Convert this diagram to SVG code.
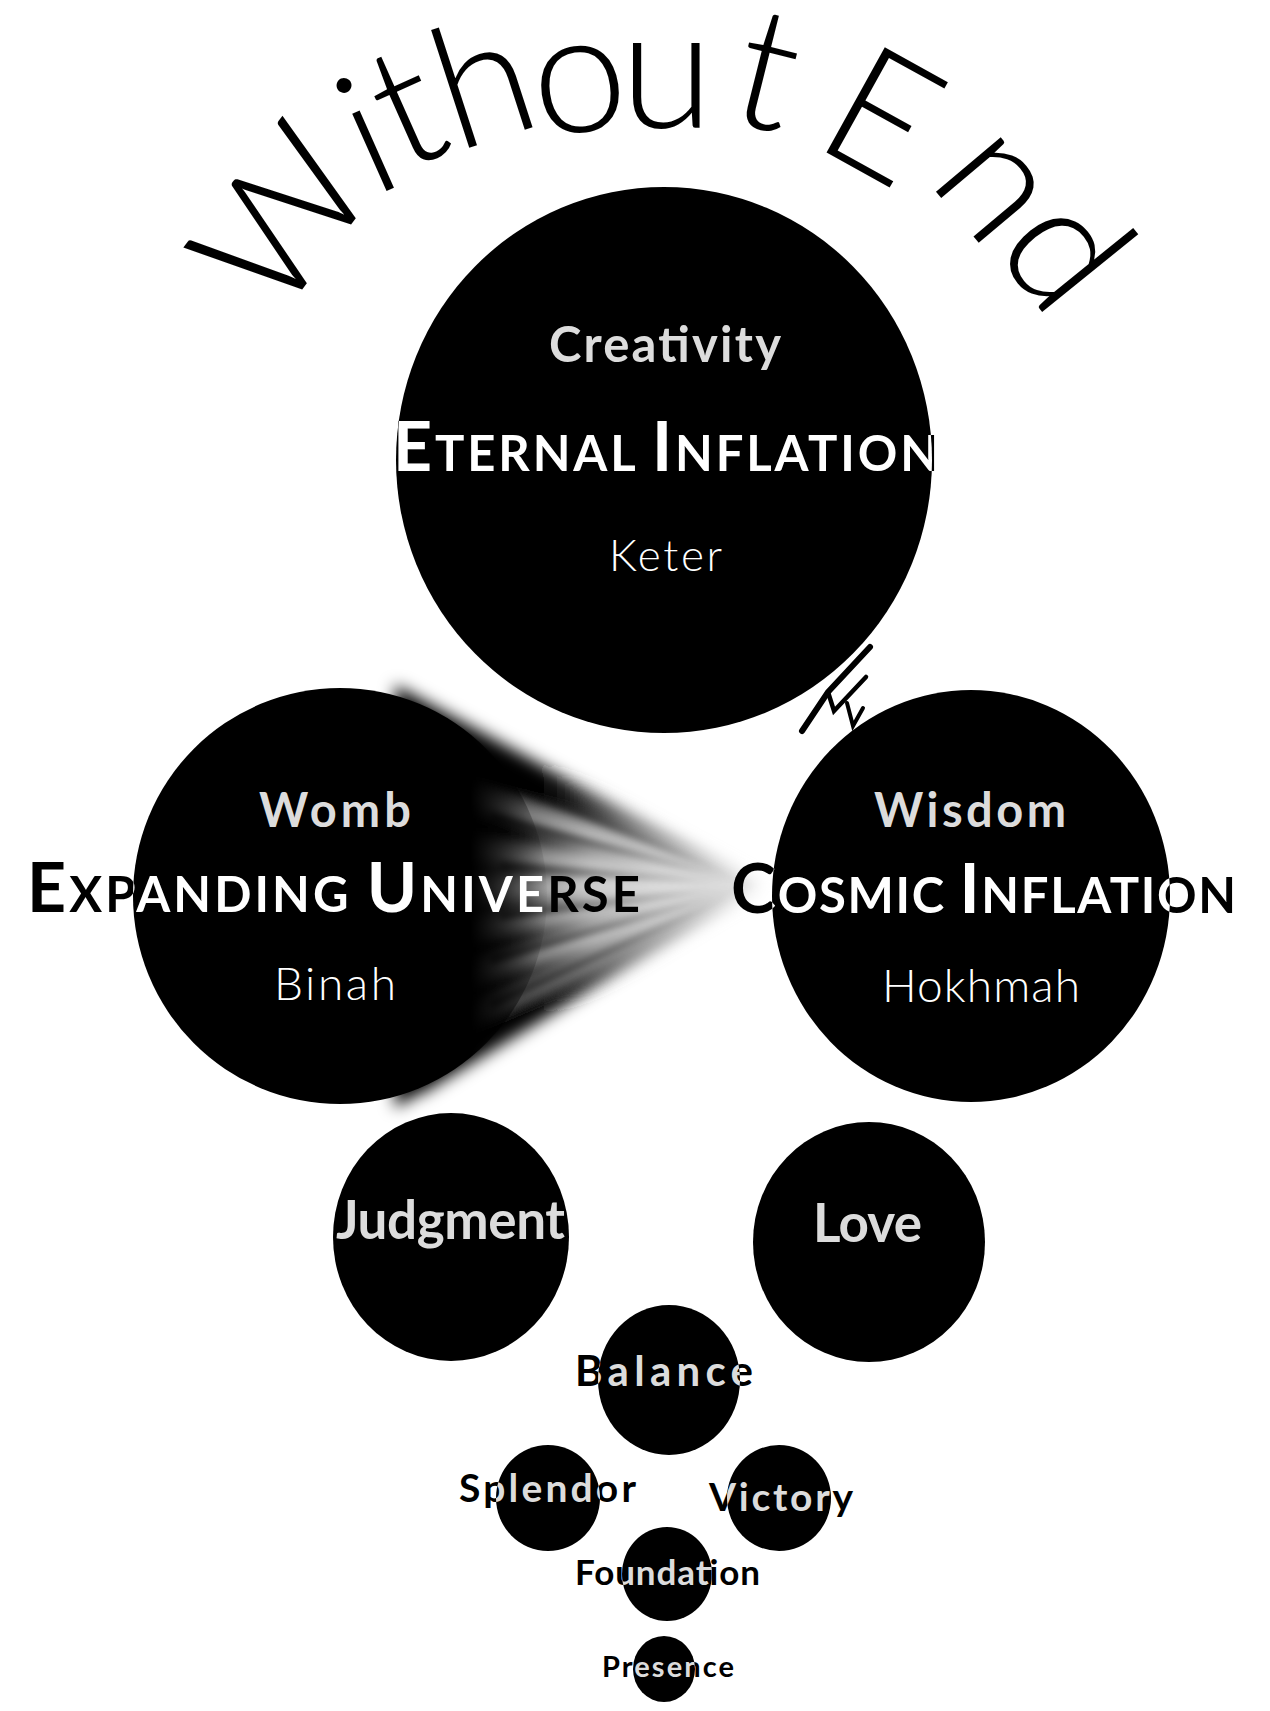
<svg xmlns="http://www.w3.org/2000/svg" width="1270" height="1711" viewBox="0 0 1270 1711">
<style>
.bold{font-family:Lato,"Open Sans","Liberation Sans",sans-serif;font-weight:700}
.hand{font-family:Lato,"DejaVu Sans",sans-serif;font-weight:300;fill:#fff}
.title{font-family:Lato,"DejaVu Sans",sans-serif;font-weight:300;font-size:170px;fill:#000}
.disc{fill:#000}
.lbl{fill:#dcdcdc}
.inv{fill:#000}
.bolt{fill:none;stroke:#000;stroke-linejoin:miter;stroke-linecap:round}
</style>
<defs>
  <clipPath id="cKeter"><ellipse cx="664" cy="460" rx="268" ry="273"/></clipPath>
  <clipPath id="cBinah"><ellipse cx="340" cy="896" rx="207" ry="208"/></clipPath>
  <clipPath id="cHokhmah"><ellipse cx="971" cy="896" rx="199" ry="206"/></clipPath>
  <clipPath id="cJudgment"><ellipse cx="451" cy="1237" rx="118" ry="124"/></clipPath>
  <clipPath id="cBalance"><ellipse cx="669" cy="1380" rx="71" ry="75"/></clipPath>
  <clipPath id="cSplendor"><ellipse cx="548" cy="1498" rx="52" ry="53"/></clipPath>
  <clipPath id="cVictory"><ellipse cx="779" cy="1498" rx="52" ry="53"/></clipPath>
  <clipPath id="cFoundation"><ellipse cx="667" cy="1574" rx="45" ry="47"/></clipPath>
  <clipPath id="cPresence"><ellipse cx="664" cy="1669" rx="31" ry="33"/></clipPath>
  <linearGradient id="gFade" gradientUnits="userSpaceOnUse" x1="470" y1="0" x2="550" y2="0">
    <stop offset="0" stop-color="#fff"/>
    <stop offset="1" stop-color="#000"/>
  </linearGradient>
  <mask id="mBinah" maskUnits="userSpaceOnUse" x="0" y="600" width="800" height="600">
    <rect x="0" y="600" width="800" height="600" fill="url(#gFade)"/>
  </mask>
  <linearGradient id="gRayBase" gradientUnits="userSpaceOnUse" x1="400" y1="0" x2="762" y2="0">
    <stop offset="0" stop-color="#000"/>
    <stop offset="0.30" stop-color="#000"/>
    <stop offset="0.40" stop-color="#333"/>
    <stop offset="0.53" stop-color="#8a8a8a"/>
    <stop offset="0.69" stop-color="#bdbdbd"/>
    <stop offset="0.88" stop-color="#d8d8d8"/>
    <stop offset="1" stop-color="#e8e8e8"/>
  </linearGradient>
  <linearGradient id="gLight" gradientUnits="userSpaceOnUse" x1="430" y1="0" x2="762" y2="0">
    <stop offset="0" stop-color="#fff" stop-opacity="0"/>
    <stop offset="0.15" stop-color="#fff" stop-opacity="0.4"/>
    <stop offset="0.5" stop-color="#fff" stop-opacity="0.85"/>
    <stop offset="1" stop-color="#fff" stop-opacity="0.6"/>
  </linearGradient>
  <linearGradient id="gDarkS" gradientUnits="userSpaceOnUse" x1="420" y1="0" x2="762" y2="0">
    <stop offset="0" stop-color="#000" stop-opacity="1"/>
    <stop offset="0.35" stop-color="#000" stop-opacity="0.9"/>
    <stop offset="0.6" stop-color="#000" stop-opacity="0.35"/>
    <stop offset="1" stop-color="#000" stop-opacity="0"/>
  </linearGradient>
  <linearGradient id="gGrey" gradientUnits="userSpaceOnUse" x1="480" y1="0" x2="762" y2="0">
    <stop offset="0" stop-color="#000" stop-opacity="0.6"/>
    <stop offset="0.5" stop-color="#000" stop-opacity="0.4"/>
    <stop offset="1" stop-color="#000" stop-opacity="0.12"/>
  </linearGradient>
  <filter id="fBlur" x="-20%" y="-20%" width="140%" height="140%">
    <feGaussianBlur stdDeviation="8"/>
  </filter>
  <filter id="fBlurS" x="-20%" y="-20%" width="140%" height="140%">
    <feGaussianBlur stdDeviation="3.5"/>
  </filter>
</defs>
<rect x="0" y="0" width="1270" height="1711" fill="#fff"/>

<g id="title">
  <text class="title" x="277 373 403 456 539 620 725 790 811 927 992" y="323 197 172 152 138 128 120 130 144 181 250" rotate="-53 -24 -24 -18 -8 0 14 0 29 50 51">Without End</text>
</g>

<g id="connectors">
  <g id="rays">
    <g filter="url(#fBlur)">
      <polygon points="762,885 395,685 395,1108" fill="url(#gRayBase)"/>
      <polygon points="762,885 420,700 420,765" fill="url(#gDarkS)"/>
      <polygon points="762,885 420,1020 420,1095" fill="url(#gDarkS)"/>
      <polygon points="762,885 440,780 440,796" fill="url(#gLight)"/>
      <polygon points="762,885 440,838 440,856" fill="url(#gLight)"/>
      <polygon points="762,885 440,876 440,902" fill="url(#gLight)"/>
      <polygon points="762,885 440,925 440,941" fill="url(#gLight)"/>
      <polygon points="762,885 440,975 440,990" fill="url(#gLight)"/>
      <polygon points="762,885 440,1024 440,1034" fill="url(#gLight)"/>
    </g>
    <g filter="url(#fBlurS)">
      <polygon points="755,885 490,770 490,781" fill="url(#gGrey)"/>
      <polygon points="755,885 490,812 490,822" fill="url(#gGrey)"/>
      <polygon points="755,885 500,862 500,870" fill="url(#gGrey)"/>
      <polygon points="755,885 500,912 500,920" fill="url(#gGrey)"/>
      <polygon points="755,885 490,955 490,965" fill="url(#gGrey)"/>
      <polygon points="755,885 490,1000 490,1010" fill="url(#gGrey)"/>
    </g>
  </g>
  <g id="bolt">
    <path class="bolt" stroke-width="6" d="M870,647 L828,692 L802,731"/>
    <path class="bolt" stroke-width="4.5" d="M828,692 L834,711 L866,677"/>
    <path class="bolt" stroke-width="4" d="M847,703 L853,726 L863,708"/>
  </g>
</g>

<g id="keter">
  <ellipse class="disc" cx="664" cy="460" rx="268" ry="273"/>
  <text class="bold lbl" x="549" y="362" font-size="49" textLength="232" lengthAdjust="spacing">Creativity</text>
  <g class="inv"><text id="tKeter" class="bold" x="393" y="471" textLength="545" lengthAdjust="spacing"><tspan font-size="68">E</tspan><tspan font-size="49">TERNAL </tspan><tspan font-size="68">I</tspan><tspan font-size="49">NFLATION</tspan></text></g>
  <use href="#tKeter" fill="#fff" clip-path="url(#cKeter)"/>
  <text class="hand" x="609" y="571" font-size="44" textLength="113" lengthAdjust="spacing">Keter</text>
</g>

<g id="binah">
  <ellipse class="disc" cx="340" cy="896" rx="207" ry="208" mask="url(#mBinah)"/>
  <text class="bold lbl" x="259" y="827" font-size="47" textLength="152" lengthAdjust="spacing">Womb</text>
  <g class="inv"><text id="tBinah" class="bold" x="27" y="912" textLength="613" lengthAdjust="spacing"><tspan font-size="68">E</tspan><tspan font-size="49">XPANDING </tspan><tspan font-size="68">U</tspan><tspan font-size="49">NIVERSE</tspan></text></g>
  <use href="#tBinah" fill="#fff" clip-path="url(#cBinah)"/>
  <text class="hand" x="274" y="1000" font-size="46" textLength="122" lengthAdjust="spacing">Binah</text>
</g>

<g id="hokhmah">
  <ellipse class="disc" cx="971" cy="896" rx="199" ry="206"/>
  <text class="bold lbl" x="874" y="827" font-size="47" textLength="192" lengthAdjust="spacing">Wisdom</text>
  <g class="inv"><text id="tHokhmah" class="bold" x="731" y="913" textLength="505" lengthAdjust="spacing"><tspan font-size="68">C</tspan><tspan font-size="49">OSMIC </tspan><tspan font-size="68">I</tspan><tspan font-size="49">NFLATION</tspan></text></g>
  <use href="#tHokhmah" fill="#fff" clip-path="url(#cHokhmah)"/>
  <text class="hand" x="882" y="1002" font-size="46" textLength="198" lengthAdjust="spacing">Hokhmah</text>
</g>

<g id="judgment">
  <ellipse class="disc" cx="451" cy="1237" rx="118" ry="124"/>
  <g class="inv"><text id="tJudgment" class="bold" x="336" y="1239" font-size="53" textLength="229" lengthAdjust="spacing">Judgment</text></g>
  <use href="#tJudgment" fill="#dcdcdc" clip-path="url(#cJudgment)"/>
</g>

<g id="love">
  <ellipse class="disc" cx="869" cy="1242" rx="116" ry="120"/>
  <text class="bold lbl" x="813" y="1242" font-size="53" textLength="109" lengthAdjust="spacing">Love</text>
</g>

<g id="balance">
  <ellipse class="disc" cx="669" cy="1380" rx="71" ry="75"/>
  <g class="inv"><text id="tBalance" class="bold" x="575" y="1386" font-size="42" textLength="178" lengthAdjust="spacing">Balance</text></g>
  <use href="#tBalance" fill="#dcdcdc" clip-path="url(#cBalance)"/>
</g>

<g id="splendor">
  <ellipse class="disc" cx="548" cy="1498" rx="52" ry="53"/>
  <g class="inv"><text id="tSplendor" class="bold" x="459" y="1502" font-size="39" textLength="177" lengthAdjust="spacing">Splendor</text></g>
  <use href="#tSplendor" fill="#dcdcdc" clip-path="url(#cSplendor)"/>
</g>

<g id="victory">
  <ellipse class="disc" cx="779" cy="1498" rx="52" ry="53"/>
  <g class="inv"><text id="tVictory" class="bold" x="709" y="1511" font-size="39" textLength="144" lengthAdjust="spacing">Victory</text></g>
  <use href="#tVictory" fill="#dcdcdc" clip-path="url(#cVictory)"/>
</g>

<g id="foundation">
  <ellipse class="disc" cx="667" cy="1574" rx="45" ry="47"/>
  <g class="inv"><text id="tFoundation" class="bold" x="575" y="1585" font-size="35" textLength="185" lengthAdjust="spacing">Foundation</text></g>
  <use href="#tFoundation" fill="#dcdcdc" clip-path="url(#cFoundation)"/>
</g>

<g id="presence">
  <ellipse class="disc" cx="664" cy="1669" rx="31" ry="33"/>
  <g class="inv"><text id="tPresence" class="bold" x="602" y="1677" font-size="29" textLength="132" lengthAdjust="spacing">Presence</text></g>
  <use href="#tPresence" fill="#dcdcdc" clip-path="url(#cPresence)"/>
</g>
</svg>
